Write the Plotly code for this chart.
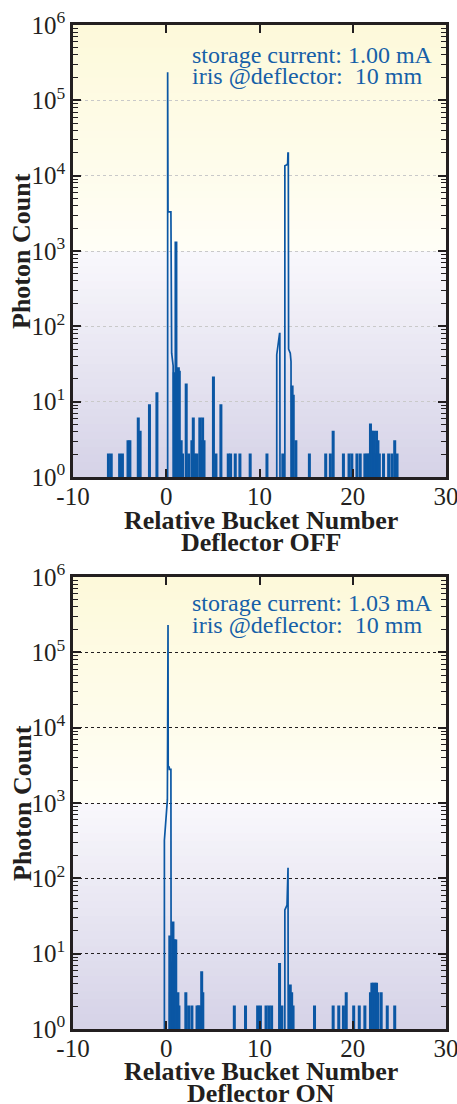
import plotly.graph_objects as go

# ---------------- data: Deflector OFF (top) ----------------
off_main_x = [0.15, 0.15, 0.19, 0.19, 0.50, 0.52, 0.58, 0.74, 0.76]
off_main_y = [0.5, 2.36e5, 2.36e5, 3300, 3300, 50, 44, 30, 0.5]
off_grp1_x = [11.85, 11.85, 12.15, 12.18, 12.20]
off_grp1_y = [0.5, 42, 80, 80, 0.5]
off_grp2_x = [12.72, 12.72, 12.95, 13.02, 13.05, 13.09, 13.12, 13.30, 13.38, 13.40]
off_grp2_y = [0.5, 1.35e4, 1.4e4, 1.45e4, 2.0e4, 2.0e4, 50, 44, 34, 0.5]
off_spike_x = [-6.2, -5.9, -5.0, -4.7, -4.1, -3.9, -3.0, -2.8, -1.8, -1.0,
               0.85, 0.95, 1.04, 1.15, 1.30, 1.40, 1.60, 1.75, 2.14, 2.40, 2.75, 2.90,
               3.05, 3.30, 3.60, 3.75, 3.90, 4.05, 5.06, 5.33, 5.86, 6.65, 6.90, 7.40,
               7.90, 9.00, 10.80, 12.50, 13.50, 13.62, 13.90, 15.35, 17.10, 17.60,
               17.90, 19.00, 19.60, 19.90, 20.45, 20.80, 21.30, 21.55, 21.75, 21.90,
               22.05, 22.25, 22.40, 22.55, 22.70, 22.85, 23.30, 23.85, 24.20, 24.50, 24.75]
off_spike_y = [2, 2, 2, 2, 3, 3, 6, 4, 9, 13,
               24, 18, 1300, 20, 28, 25, 3, 2, 17, 2, 3, 6,
               2, 2, 6, 3, 6, 3, 21, 2, 9, 2, 2, 2,
               2, 2, 2, 2, 16, 12, 3, 2, 2, 2,
               4, 2, 2, 2, 2, 2, 2, 2, 2, 5,
               4, 4, 2, 4, 3, 2, 2, 2, 2, 3, 2]

# ---------------- data: Deflector ON (bottom) ----------------
on_main_x = [-0.20, -0.20, 0.12, 0.15, 0.19, 0.21, 0.32, 0.34, 0.50, 0.52, 0.58, 0.60]
on_main_y = [0.5, 320, 1100, 2.3e5, 2.3e5, 3100, 3000, 2800, 2800, 8, 5, 0.5]
on_grp2_x = [12.72, 12.72, 12.95, 13.03, 13.06, 13.08]
on_grp2_y = [0.5, 38, 44, 138, 138, 0.5]
on_spike_x = [0.38, 0.45, 0.72, 0.82, 0.92, 1.02, 1.25, 1.36, 2.10, 2.40, 2.75,
              3.30, 3.45, 3.60, 3.80, 3.92, 7.30, 8.50, 9.80, 10.10, 10.70, 11.00,
              11.30, 12.15, 12.40, 13.30, 13.45, 13.60, 15.90, 17.90, 18.50, 19.00,
              19.30, 20.10, 20.70, 21.30, 21.90, 22.05, 22.20, 22.40, 22.55, 22.70,
              23.05, 23.70, 24.50]
on_spike_y = [17, 3, 26, 15, 15, 15, 3, 2, 3, 2, 2,
              2, 2, 2, 5.7, 3, 2, 2, 2, 2, 2, 2,
              2, 7.3, 2, 3.8, 3, 2, 2, 2, 2, 2,
              3, 2, 2, 2, 3, 4, 4, 4, 4, 3,
              3, 2, 2]

x_ticks = [-10, 0, 10, 20, 30]
y_ticks = [1, 10, 100, 1000, 1e4, 1e5, 1e6]
y_ticktext = ["10<sup>%d</sup>" % i for i in range(7)]

BASE = 0.5
HALF = 0.07


def build(profiles, sx, sy):
    segs = []
    for px, py in profiles:
        segs.append(list(zip(px, py)))
    for x, y in zip(sx, sy):
        segs.append([(x - HALF, BASE), (x - HALF, y), (x + HALF, y), (x + HALF, BASE)])
    segs.sort(key=lambda s: s[0][0])
    xs, ys = [], []
    for s in segs:
        for a, b in s:
            xs.append(a)
            ys.append(b)
        xs.append(None)
        ys.append(None)
    return xs, ys


LINE = "#0b57a4"
INK = "#231f20"
FONT = "Liberation Serif"

fig = go.Figure()
tx, ty = build([(off_main_x, off_main_y), (off_grp1_x, off_grp1_y), (off_grp2_x, off_grp2_y)],
               off_spike_x, off_spike_y)
bx, by = build([(on_main_x, on_main_y), (on_grp2_x, on_grp2_y)], on_spike_x, on_spike_y)
fig.add_trace(go.Scatter(x=tx, y=ty, mode="lines", line=dict(color=LINE, width=1.7),
                         xaxis="x", yaxis="y", showlegend=False, connectgaps=False))
fig.add_trace(go.Scatter(x=bx, y=by, mode="lines", line=dict(color=LINE, width=1.7),
                         xaxis="x2", yaxis="y2", showlegend=False, connectgaps=False))

W, H = 457, 1104
xdom = [73 / W, 446 / W]
ydom_top = [(H - 477) / H, (H - 25) / H]
ydom_bot = [(H - 1029) / H, (H - 577) / H]


def xaxis(anchor):
    return dict(domain=xdom, anchor=anchor, range=[-10, 30], tickvals=x_ticks,
                ticktext=[str(v) for v in x_ticks], ticks="inside", ticklen=8, tickwidth=1.5,
                tickcolor=INK, mirror="allticks", showline=True, linecolor=INK, linewidth=2.5,
                showgrid=False, zeroline=False, automargin=False, ticklabelstandoff=-5,
                ticklabeloverflow="allow",
                tickfont=dict(family=FONT, size=25, color=INK))


def yaxis(anchor, dom, gridcolor, gridwidth, griddash):
    return dict(domain=dom, anchor=anchor, type="log", range=[0, 6], tickvals=y_ticks,
                ticktext=y_ticktext, ticks="inside", ticklen=8, tickwidth=1.5, tickcolor=INK,
                mirror="allticks", showline=True, linecolor=INK, linewidth=2.5,
                showgrid=True, gridcolor=gridcolor, gridwidth=gridwidth, griddash=griddash,
                zeroline=False, automargin=False, ticklabelstandoff=0,
                ticklabeloverflow="allow",
                tickfont=dict(family=FONT, size=25, color=INK),
                minor=dict(ticks="inside", ticklen=5, tickwidth=1.2, tickcolor=INK,
                           dtick="D1", showgrid=False))


fig.update_layout(
    width=W, height=H, margin=dict(l=0, r=0, t=0, b=0, autoexpand=False),
    paper_bgcolor="white", plot_bgcolor="white",
    xaxis=xaxis("y"), yaxis=yaxis("x", ydom_top, "#c9c9c9", 1, "dot"),
    xaxis2=xaxis("y2"), yaxis2=yaxis("x2", ydom_bot, "#231f20", 1.2, "dot"),
)


def lerp(c1, c2, t):
    return "rgb(%d,%d,%d)" % tuple(round(a + (b - a) * t) for a, b in zip(c1, c2))


shapes = []
N = 60
for xr, yr in [("x", "y"), ("x2", "y2")]:
    for i in range(N):
        f0 = i / N
        f1 = (i + 1) / N
        fm = (f0 + f1) / 2
        if fm < 0.5:
            col = lerp((253, 249, 218), (255, 254, 246), fm / 0.5)
        else:
            col = lerp((249, 248, 252), (213, 210, 231), (fm - 0.5) / 0.5)
        shapes.append(dict(type="rect", xref=xr + " domain", yref=yr + " domain",
                           x0=0, x1=1, y0=1 - f1 - 0.002, y1=1 - f0, layer="below",
                           line=dict(width=0), fillcolor=col))
fig.update_layout(shapes=shapes)

ANN_BLUE = "#1660a8"
anns = []
for (l1y, l2y, cur) in [(55, 76, "1.00"), (603, 625, "1.03")]:
    anns.append(dict(x=190 / W, y=(H - l1y) / H, xref="paper", yref="paper",
                     text="storage current: %s mA" % cur, showarrow=False, xanchor="left",
                     yanchor="middle", font=dict(family=FONT, size=24, color=ANN_BLUE)))
    anns.append(dict(x=190 / W, y=(H - l2y) / H, xref="paper", yref="paper",
                     text="iris @deflector: \u00a010 mm", showarrow=False, xanchor="left",
                     yanchor="middle", font=dict(family=FONT, size=24, color=ANN_BLUE)))
for (cy, t1y, t2y, state) in [(251, 520, 542, "OFF"), (803, 1071, 1093, "ON")]:
    anns.append(dict(x=22 / W, y=(H - cy) / H, xref="paper", yref="paper",
                     text="<b>Photon Count</b>", textangle=-90, showarrow=False,
                     xanchor="center", yanchor="middle",
                     font=dict(family=FONT, size=26, color=INK)))
    anns.append(dict(x=261 / W, y=(H - t1y) / H, xref="paper", yref="paper",
                     text="<b>Relative Bucket Number</b>", showarrow=False,
                     xanchor="center", yanchor="middle",
                     font=dict(family=FONT, size=26, color=INK)))
    anns.append(dict(x=261 / W, y=(H - t2y) / H, xref="paper", yref="paper",
                     text="<b>Deflector %s</b>" % state, showarrow=False,
                     xanchor="center", yanchor="middle",
                     font=dict(family=FONT, size=26, color=INK)))
fig.update_layout(annotations=anns)

fig.write_html("out.html", config={"displayModeBar": False},
               post_script="document.body.style.margin='0';")
